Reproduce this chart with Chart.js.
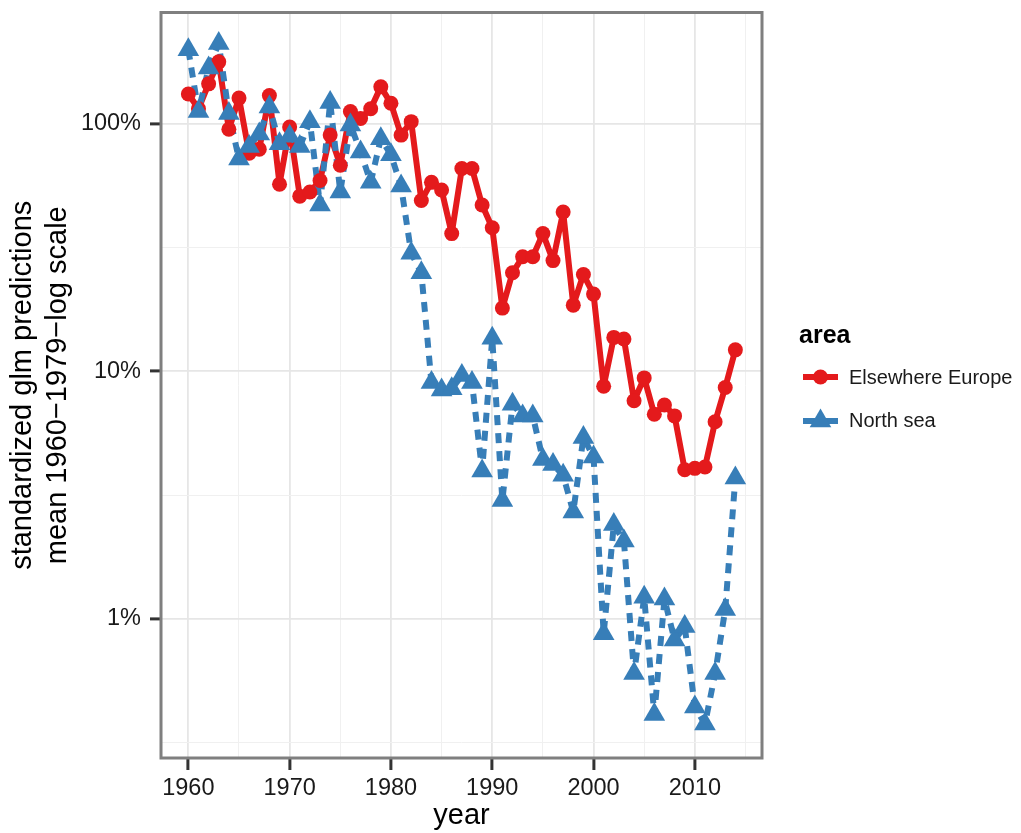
<!DOCTYPE html>
<html>
<head>
<meta charset="utf-8">
<script src="https://cdn.jsdelivr.net/npm/chart.js@4.4.1/dist/chart.umd.min.js"></script>
<style>
  html, body { margin: 0; padding: 0; background: #ffffff; }
  canvas { display: block; }
</style>
</head>
<body>
<canvas id="glmChart" width="1021" height="833"></canvas>
<script>
// years of the survey
const years = [
  1960, 1961, 1962, 1963, 1964, 1965, 1966, 1967, 1968, 1969,
  1970, 1971, 1972, 1973, 1974, 1975, 1976, 1977, 1978, 1979,
  1980, 1981, 1982, 1983, 1984, 1985, 1986, 1987, 1988, 1989,
  1990, 1991, 1992, 1993, 1994, 1995, 1996, 1997, 1998, 1999,
  2000, 2001, 2002, 2003, 2004, 2005, 2006, 2007, 2008, 2009,
  2010, 2011, 2012, 2013, 2014
];

// standardized predictions, in % of the 1960-1979 mean
const elsewhereEurope = [
  132, 115, 145, 178, 95, 127, 76, 79, 130, 57,
  97, 51, 53, 59, 90, 68, 112, 105, 115, 141,
  121, 90, 102, 49, 58, 54, 36, 66, 66, 47,
  38, 18, 25, 29, 29, 36, 28, 44, 18.5, 24.6,
  20.5, 8.7, 13.7, 13.5, 7.6, 9.4, 6.7, 7.3, 6.6, 4.0,
  4.05, 4.1, 6.25, 8.6, 12.2
];

const northSea = [
  199, 112, 168, 211, 110, 72, 81, 91, 117, 83,
  89, 81, 102, 47, 122, 53, 99, 77, 58, 87,
  75, 56, 30, 25, 9.0, 8.4, 8.5, 9.6, 9.0, 3.95,
  13.6, 3.0, 7.35, 6.6, 6.6, 4.4, 4.2, 3.8, 2.7, 5.4,
  4.5, 0.87, 2.4, 2.06, 0.6, 1.22, 0.41, 1.2, 0.82, 0.93,
  0.44, 0.375, 0.6, 1.09, 3.7
];

const seriesNames = ['Elsewhere Europe', 'North sea'];
const xMajorTicks = [1960, 1970, 1980, 1990, 2000, 2010];
const xMinorTicks = [1965, 1975, 1985, 1995, 2005, 2015];
const yMajorTicks = [1, 10, 100];
const yTickLabels = ['1%', '10%', '100%'];
const yMinorTicks = [0.316, 3.16, 31.6];

const RED = '#E41A1C';
const BLUE = '#377EB8';
const FONT = "'Liberation Sans', Arial, sans-serif";

const toPoints = vals => vals.map((v, i) => ({ x: years[i], y: v }));

// no extra room for half tick labels, the panel edges are fixed
const noPad = s => {
    s.paddingTop = 0; s.paddingBottom = 0;
    s.paddingLeft = 0; s.paddingRight = 0;
};

// panel border + legend, drawn by hand like ggplot does
const ggExtras = {
    id: 'ggExtras',
    afterDraw(chart) {
        const ctx = chart.ctx;
        const a = chart.chartArea;
        ctx.save();
        ctx.strokeStyle = '#7f7f7f';
        ctx.lineWidth = 3;
        ctx.strokeRect(a.left, a.top, a.right - a.left, a.bottom - a.top);

        // legend
        ctx.fillStyle = '#000';
        ctx.font = 'bold 25px ' + FONT;
        ctx.textBaseline = 'alphabetic';
        ctx.fillText('area', 799, 343);

        ctx.font = '20px ' + FONT;
        ctx.fillStyle = '#1a1a1a';
        ctx.fillText(seriesNames[0], 849, 384);
        ctx.fillText(seriesNames[1], 849, 427);

        // key 1
        ctx.strokeStyle = RED;
        ctx.lineWidth = 6;
        ctx.beginPath();
        ctx.moveTo(803, 377);
        ctx.lineTo(838, 377);
        ctx.stroke();
        ctx.fillStyle = RED;
        ctx.beginPath();
        ctx.arc(820.5, 377, 7.5, 0, Math.PI * 2);
        ctx.fill();

        // key 2
        ctx.strokeStyle = BLUE;
        ctx.setLineDash([13, 9]);
        ctx.beginPath();
        ctx.moveTo(803, 421);
        ctx.lineTo(838, 421);
        ctx.stroke();
        ctx.setLineDash([]);
        ctx.fillStyle = BLUE;
        const r = 12.5, cx = 820.5, cy = 421;
        ctx.beginPath();
        ctx.moveTo(cx, cy - r);
        ctx.lineTo(cx + r * Math.sin(Math.PI * 2 / 3), cy + r / 2);
        ctx.lineTo(cx - r * Math.sin(Math.PI * 2 / 3), cy + r / 2);
        ctx.closePath();
        ctx.fill();
        ctx.restore();
    }
};

const ctx = document.getElementById('glmChart').getContext('2d');

new Chart(ctx, {
    type: 'line',
    data: {
        datasets: [
            {
                label: seriesNames[0] + ' line',
                data: toPoints(elsewhereEurope),
                borderColor: RED,
                borderWidth: 6,
                pointRadius: 0,
                borderJoinStyle: 'round',
                order: 3
            },
            {
                label: seriesNames[1] + ' line',
                data: toPoints(northSea),
                borderColor: BLUE,
                borderWidth: 6,
                borderDash: [10, 8],
                pointRadius: 0,
                borderJoinStyle: 'round',
                order: 2
            },
            {
                label: seriesNames[0],
                data: toPoints(elsewhereEurope),
                showLine: false,
                pointStyle: 'circle',
                pointRadius: 7.5,
                pointBorderWidth: 0,
                pointBackgroundColor: RED,
                pointBorderColor: RED,
                order: 1
            },
            {
                label: seriesNames[1],
                data: toPoints(northSea),
                showLine: false,
                pointStyle: 'triangle',
                pointRadius: 12.5,
                pointBorderWidth: 0,
                pointBackgroundColor: BLUE,
                pointBorderColor: BLUE,
                order: 0
            }
        ]
    },
    options: {
        responsive: false,
        animation: false,
        events: [],
        layout: {
            padding: { left: 0, top: 10.5, right: 259, bottom: 0 }
        },
        plugins: {
            legend: { display: false },
            tooltip: { enabled: false }
        },
        scales: {
            x: {
                type: 'linear',
                min: 1957.3,
                max: 2016.63,
                afterBuildTicks: s => {
                    s.ticks = xMajorTicks.concat(xMinorTicks).sort((a, b) => a - b).map(v => ({ value: v }));
                },
                afterFit: s => { s.height = 75; noPad(s); },
                border: { display: false },
                grid: {
                    color: c => xMajorTicks.includes(c.tick.value) ? '#e6e6e6' : '#f0f0f0',
                    lineWidth: c => xMajorTicks.includes(c.tick.value) ? 1.8 : 1,
                    tickColor: c => xMajorTicks.includes(c.tick.value) ? '#333333' : 'rgba(0,0,0,0)',
                    tickWidth: 3,
                    tickLength: 12
                },
                ticks: {
                    autoSkip: false,
                    maxRotation: 0,
                    padding: 4,
                    color: '#1a1a1a',
                    font: { family: FONT, size: 23.5 },
                    callback: v => xMajorTicks.includes(v) ? String(v) : ''
                },
                title: {
                    display: true,
                    text: 'year',
                    color: '#000',
                    font: { family: FONT, size: 29, lineHeight: 1.2 },
                    padding: { top: 0, bottom: 0 }
                }
            },
            y: {
                type: 'logarithmic',
                min: 0.2735,
                max: 281.7,
                afterBuildTicks: s => {
                    s.ticks = yMajorTicks.concat(yMinorTicks).sort((a, b) => a - b).map(v => ({ value: v }));
                },
                afterFit: s => { s.width = 161; noPad(s); },
                border: { display: false },
                grid: {
                    color: c => yMajorTicks.includes(c.tick.value) ? '#e6e6e6' : '#f0f0f0',
                    lineWidth: c => yMajorTicks.includes(c.tick.value) ? 1.8 : 1,
                    tickColor: c => yMajorTicks.includes(c.tick.value) ? '#333333' : 'rgba(0,0,0,0)',
                    tickWidth: 3,
                    tickLength: 11
                },
                ticks: {
                    autoSkip: false,
                    padding: 9,
                    color: '#1a1a1a',
                    font: { family: FONT, size: 23.5 },
                    callback: v => {
                        const i = yMajorTicks.indexOf(v);
                        return i >= 0 ? yTickLabels[i] : '';
                    }
                },
                title: {
                    display: true,
                    text: ['standardized glm predictions', 'mean 1960\u22121979\u2212log scale'],
                    color: '#000',
                    font: { family: FONT, size: 29, lineHeight: 1.2 },
                    padding: { top: 5.5, bottom: 0 }
                }
            }
        }
    },
    plugins: [ggExtras]
});
</script>
</body>
</html>
